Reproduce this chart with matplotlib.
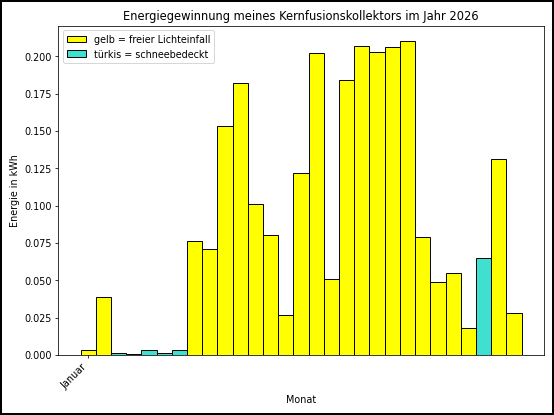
import numpy as np
import matplotlib.pyplot as plt
from matplotlib.patches import Patch

# Energie pro Abschnitt (kWh), von links nach rechts
energie = [0.003, 0.039, 0.0013, 0.0005, 0.003, 0.0012, 0.0035,
           0.076, 0.071, 0.153, 0.182, 0.101, 0.080, 0.027,
           0.122, 0.202, 0.051, 0.184, 0.207, 0.203, 0.206,
           0.210, 0.079, 0.049, 0.055, 0.018, 0.065, 0.131, 0.028]
# 1 = schneebedeckt
schnee = [0, 0, 1, 1, 1, 1, 1,
          0, 0, 0, 0, 0, 0, 0,
          0, 0, 0, 0, 0, 0, 0,
          0, 0, 0, 0, 0, 1, 0, 0]
tick_pos = [0]
tick_labels = ['Januar']

farben = ['turquoise' if s else 'yellow' for s in schnee]

fig, ax = plt.subplots(figsize=(8.0, 6.0), dpi=69.25, edgecolor='black', linewidth=2.5)

x = np.arange(len(energie))
ax.bar(x, energie, width=1.0, color=farben, edgecolor='black', linewidth=1)

ax.set_title('Energiegewinnung meines Kernfusionskollektors im Jahr 2026')
ax.set_xlabel('Monat')
ax.set_ylabel('Energie in kWh')
ax.set_xticks(tick_pos)
ax.set_xticklabels(tick_labels, rotation=45, ha='right')

handles = [Patch(facecolor='yellow', edgecolor='black', label='gelb = freier Lichteinfall'),
           Patch(facecolor='turquoise', edgecolor='black', label='türkis = schneebedeckt')]
ax.legend(handles=handles, loc='upper left')

fig.tight_layout()
fig.savefig('out.png')
plt.close()
